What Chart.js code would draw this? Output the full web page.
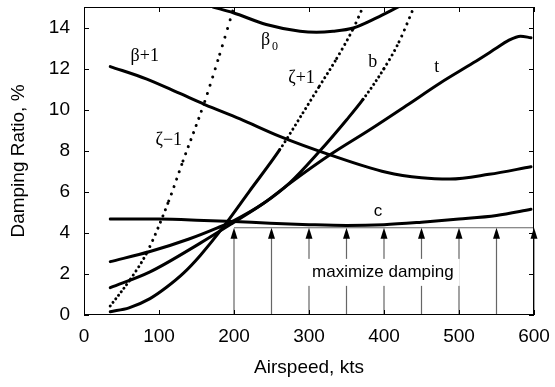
<!DOCTYPE html>
<html>
<head>
<meta charset="utf-8">
<script src="https://cdn.jsdelivr.net/npm/chart.js@4"></script>
<style>
  html, body { margin: 0; padding: 0; background: #fff; }
  #wrap { width: 555px; height: 387px; }
</style>
</head>
<body>
<div id="wrap"><canvas id="dampingChart"></canvas></div>
<script>
// damping ratio (%) against airspeed (kts), one pair of arrays per mode
const betaPlusSpeed = [35, 83, 127, 161, 208, 261, 328, 403, 450, 488, 540, 596];
const betaPlusDamp  = [12.1, 11.5, 10.8, 10.25, 9.55, 8.7, 7.8, 6.95, 6.68, 6.62, 6.85, 7.22];

const betaZeroSpeed = [172, 199, 243, 288, 310, 332, 359, 390, 419];
const betaZeroDamp  = [15, 14.72, 14.15, 13.82, 13.77, 13.82, 13.98, 14.47, 15];

const zetaMinusSpeed = [35, 62, 84, 113, 132, 161, 181, 200];
const zetaMinusDamp  = [0.44, 1.75, 3.05, 5.55, 7.5, 10.4, 12.7, 15];

const zetaPlusSpeed = [35, 60, 88, 110, 133, 155, 186, 220, 261, 292, 314, 337, 359, 372];
const zetaPlusDamp  = [0.16, 0.35, 0.8, 1.35, 2.05, 2.9, 4.3, 6.0, 8.05, 9.85, 11.15, 12.5, 13.95, 15];

const bSpeed = [35, 88, 140, 177, 200, 240, 274, 314, 350, 372, 400, 420, 440];
const bDamp  = [2.6, 3.09, 3.7, 4.23, 4.6, 5.45, 6.42, 7.97, 9.5, 10.5, 12.0, 13.3, 15];

const tSpeed = [35, 88, 155, 198, 240, 274, 328, 381, 430, 475, 519, 550, 565, 582, 596];
const tDamp  = [1.33, 2.1, 3.5, 4.47, 5.45, 6.4, 7.8, 9.02, 10.2, 11.3, 12.28, 13.0, 13.35, 13.58, 13.5];

const cSpeed = [35, 100, 150, 200, 248, 300, 350, 400, 450, 500, 550, 596];
const cDamp  = [4.68, 4.67, 4.62, 4.55, 4.47, 4.4, 4.36, 4.4, 4.52, 4.67, 4.85, 5.15];

// speeds where damping gets pushed up, and the floor they push to
const arrowSpeeds = [200, 250, 300, 350, 400, 450, 500, 550, 600];
const dampFloor = 4.25;

const speedTicks = [0, 100, 200, 300, 400, 500, 600];
const dampTicks = [0, 2, 4, 6, 8, 10, 12, 14];

const serif = '"Liberation Serif", "DejaVu Serif", serif';
const sans = '"Liberation Sans", Arial, sans-serif';

// curve names, placed in axis units
const curveLabels = [
  { text: 'β+1', x: 81, y: 12.62, font: serif, size: 18 },
  { text: 'β', x: 242, y: 13.37, font: serif, size: 18 },
  { text: '0', x: 254.5, y: 13.05, font: serif, size: 12 },
  { text: 'ζ−1', x: 113, y: 8.49, font: serif, size: 18 },
  { text: 'ζ+1', x: 290, y: 11.51, font: serif, size: 18 },
  { text: 'b', x: 385, y: 12.29, font: serif, size: 18 },
  { text: 't', x: 470.5, y: 12.05, font: serif, size: 18 },
  { text: 'c', x: 392, y: 5.07, font: sans, size: 17 }
];

// steep parts of some modes are plotted as a string of dots
function dotsAbove(damp, fromY) {
  return {
    borderDash: ctx => {
      if (damp[ctx.p0DataIndex] < fromY) return undefined;
      const dx = ctx.p1.x - ctx.p0.x, dy = ctx.p1.y - ctx.p0.y;
      const s = Math.abs(dy / (dx || 1));
      return [0.001, Math.max(4.5, 2.6 * Math.sqrt(1 + s * s))];
    }
  };
}

function curve(speed, damp, extra) {
  return Object.assign({
    data: speed.map((x, i) => ({ x: x, y: damp[i] })),
    showLine: true,
    borderColor: '#000',
    borderWidth: 3,
    borderCapStyle: 'round',
    borderJoinStyle: 'round',
    pointRadius: 0,
    cubicInterpolationMode: 'monotone'
  }, extra || {});
}

const decorations = {
  id: 'decorations',
  beforeDatasetsDraw(chart) {
    const ctx = chart.ctx, xs = chart.scales.x, ys = chart.scales.y;
    const yTop = ys.getPixelForValue(dampFloor), y0 = ys.getPixelForValue(0);
    ctx.save();
    ctx.strokeStyle = '#666';
    ctx.lineWidth = 1.2;
    ctx.beginPath();
    ctx.moveTo(xs.getPixelForValue(arrowSpeeds[0]), yTop);
    ctx.lineTo(xs.getPixelForValue(arrowSpeeds[arrowSpeeds.length - 1]), yTop);
    arrowSpeeds.forEach(v => {
      const px = xs.getPixelForValue(v);
      ctx.moveTo(px, y0);
      ctx.lineTo(px, yTop + 6);
    });
    ctx.stroke();
    ctx.fillStyle = '#000';
    arrowSpeeds.forEach(v => {
      const px = xs.getPixelForValue(v);
      ctx.beginPath();
      ctx.moveTo(px, yTop);
      ctx.lineTo(px - 3.5, yTop + 11);
      ctx.lineTo(px + 3.5, yTop + 11);
      ctx.closePath();
      ctx.fill();
    });
    // caption over the arrows on a white patch
    const tx = xs.getPixelForValue(398.5), ty = ys.getPixelForValue(2.1);
    ctx.font = '17px ' + sans;
    const w = ctx.measureText('maximize damping').width;
    ctx.fillStyle = '#fff';
    ctx.fillRect(tx - w / 2 - 6, ty - 13, w + 12, 27);
    ctx.fillStyle = '#000';
    ctx.textAlign = 'center';
    ctx.textBaseline = 'middle';
    ctx.fillText('maximize damping', tx, ty);
    ctx.restore();
  },
  afterDatasetsDraw(chart) {
    const ctx = chart.ctx, a = chart.chartArea;
    const xs = chart.scales.x, ys = chart.scales.y;
    ctx.save();
    // frame with inward ticks on all four sides
    ctx.strokeStyle = '#000';
    ctx.lineWidth = 1;
    ctx.strokeRect(a.left + 0.5, a.top + 0.5, a.right - a.left - 1, a.bottom - a.top - 1);
    ctx.beginPath();
    xs.ticks.forEach(t => {
      const px = Math.round(xs.getPixelForValue(t.value)) + 0.5;
      ctx.moveTo(px, a.bottom); ctx.lineTo(px, a.bottom - 5);
      ctx.moveTo(px, a.top); ctx.lineTo(px, a.top + 5);
    });
    ys.ticks.forEach(t => {
      const py = Math.round(ys.getPixelForValue(t.value)) + 0.5;
      ctx.moveTo(a.left, py); ctx.lineTo(a.left + 5, py);
      ctx.moveTo(a.right, py); ctx.lineTo(a.right - 5, py);
    });
    ctx.stroke();
    ctx.fillStyle = '#000';
    ctx.textAlign = 'center';
    ctx.textBaseline = 'middle';
    curveLabels.forEach(l => {
      ctx.font = l.size + 'px ' + l.font;
      ctx.fillText(l.text, xs.getPixelForValue(l.x), ys.getPixelForValue(l.y));
    });
    ctx.restore();
  }
};

new Chart(document.getElementById('dampingChart'), {
  type: 'scatter',
  data: {
    datasets: [
      curve(betaPlusSpeed, betaPlusDamp),
      curve(betaZeroSpeed, betaZeroDamp),
      curve(zetaMinusSpeed, zetaMinusDamp, { segment: dotsAbove(zetaMinusDamp, 0) }),
      curve(zetaPlusSpeed, zetaPlusDamp, { segment: dotsAbove(zetaPlusDamp, 7.5) }),
      curve(bSpeed, bDamp, { segment: dotsAbove(bDamp, 10) }),
      curve(tSpeed, tDamp),
      curve(cSpeed, cDamp)
    ]
  },
  options: {
    responsive: true,
    maintainAspectRatio: false,
    animation: false,
    layout: { padding: { top: 7, right: 21, left: 0, bottom: 0 } },
    plugins: { legend: { display: false }, tooltip: { enabled: false } },
    scales: {
      x: {
        type: 'linear', min: 0, max: 600,
        grid: { display: false, drawTicks: false },
        border: { display: false },
        ticks: { color: '#000', padding: 10, maxRotation: 0, font: { family: sans, size: 19 } },
        afterBuildTicks: s => { s.ticks = speedTicks.map(v => ({ value: v })); },
        title: { display: true, text: 'Airspeed, kts', color: '#000', font: { family: sans, size: 19 }, padding: { top: 0, bottom: 8 } },
        afterFit: s => { s.height = 72; s.paddingLeft = 0; s.paddingRight = 0; }
      },
      y: {
        type: 'linear', min: 0, max: 15,
        grid: { display: false, drawTicks: false },
        border: { display: false },
        ticks: { color: '#000', padding: 14, font: { family: sans, size: 19 } },
        afterBuildTicks: s => { s.ticks = dampTicks.map(v => ({ value: v })); },
        title: { display: true, text: 'Damping Ratio, %', color: '#000', font: { family: sans, size: 19 }, padding: { top: 7, bottom: 0 } },
        afterFit: s => { s.width = 84; s.paddingTop = 0; s.paddingBottom = 0; }
      }
    }
  },
  plugins: [decorations]
});
</script>
</body>
</html>
